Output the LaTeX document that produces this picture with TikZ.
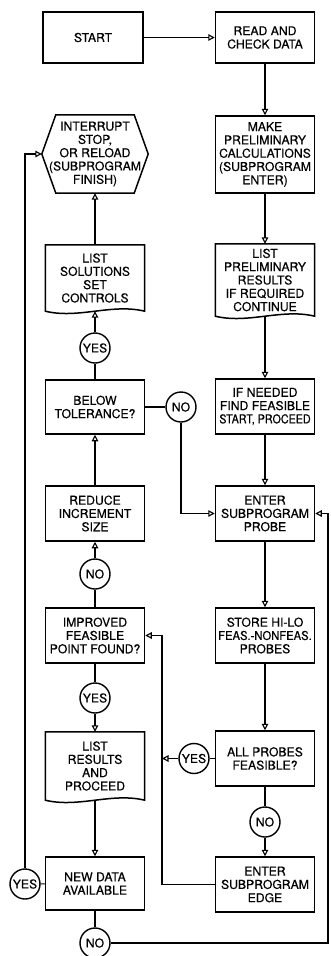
\documentclass[tikz,border=0pt]{standalone}
\usepackage{fontspec}
\setmainfont{TeX Gyre Heros}[FakeBold=0.45]
\usepackage{graphicx}
\usetikzlibrary{arrows.meta,calc}
\newcommand\docoutline[1]{%
  \draw[boxline] (#1.south west) -- (#1.north west) -- (#1.north east) -- (#1.south east)
    .. controls ($(#1.south east)+(-33,-8)$) and ($(#1.south west)+(33,8)$) .. (#1.south west) -- cycle;}
\begin{document}
\begin{tikzpicture}[x=1pt,y=-1pt,
  boxline/.style={line width=1.5pt},
  txt/.style={align=center,inner sep=0pt,font=\fontsize{12.2}{13.3}\selectfont},
  box/.style={txt,draw,boxline,minimum width=99pt,minimum height=55pt},
  doc/.style={txt,draw=none,minimum width=99pt},
  ring/.style={txt,draw,circle,line width=1.4pt,minimum size=30pt},
  link/.style={line width=1.15pt},
  arr/.style={link,-{Triangle[open,length=6.5pt,width=6.5pt]}}
]
\useasboundingbox (0,0) rectangle (330,956);

% right column
\node[box,minimum width=100pt,minimum height=51pt] (start) at (93,37.5) {START};
\node[box,minimum height=51pt] (read) at (265,37.5) {READ AND\\CHECK DATA};
\node[box,minimum height=77pt] (make) at (265,154.5) {MAKE\\PRELIMINARY\\CALCULATIONS\\(SUBPROGRAM\\ENTER)};
\node[doc,minimum height=72pt] (prelim) at (265,280) {LIST\\PRELIMINARY\\RESULTS\\IF REQUIRED\\CONTINUE};
\docoutline{prelim}
\node[box] (ifn) at (265,406.5) {IF NEEDED\\FIND FEASIBLE\\\scalebox{0.88}[1]{START, PROCEED}};
\node[box] (probe) at (265,513.5) {ENTER\\SUBPROGRAM\\PROBE};
\node[box] (store) at (265,635.5) {STORE HI-LO\\\scalebox{0.92}[1]{FEAS.-NONFEAS.}\\PROBES};
\node[box] (allp) at (265,758.5) {ALL PROBES\\FEASIBLE?};
\node[ring] (noR) at (265,822) {NO};
\node[box] (edge) at (265,884.5) {ENTER\\SUBPROGRAM\\EDGE};
\node[ring] (yesR) at (194,758.5) {YES};

% left column
\node[txt,minimum width=106pt,minimum height=78pt] (intr) at (95,154) {INTERRUPT\\STOP,\\OR RELOAD\\(SUBPROGRAM\\FINISH)};
\draw[boxline] (intr.west) -- ($(intr.north west)+(14,0)$) -- ($(intr.north east)+(-14,0)$) -- (intr.east)
  -- ($(intr.south east)+(-14,0)$) -- ($(intr.south west)+(14,0)$) -- cycle;
\node[doc,minimum height=66pt] (listsol) at (95,278) {LIST\\SOLUTIONS\\SET\\CONTROLS};
\docoutline{listsol}
\node[ring] (yesL1) at (95,348) {YES};
\node[box,minimum height=54pt] (below) at (95,407) {BELOW\\TOLERANCE?};
\node[ring] (noM) at (181,407) {NO};
\node[box] (reduce) at (95,513.5) {REDUCE\\INCREMENT\\SIZE};
\node[ring] (noL) at (95,574) {NO};
\node[box] (improved) at (95,635.5) {IMPROVED\\FEASIBLE\\POINT FOUND?};
\node[ring] (yesL2) at (95,698) {YES};
\node[doc,minimum height=68pt] (results) at (95,766) {LIST\\RESULTS\\AND\\PROCEED};
\docoutline{results}
\node[box,minimum height=53pt] (newdata) at (95,883.5) {NEW DATA\\AVAILABLE};
\node[ring] (yesF) at (25,884) {YES};
\node[ring] (noB) at (95,943) {NO};

\coordinate (lrail) at (162,0);
\coordinate (rrail) at (328,0);

% connectors
\draw[arr] (start) -- (read);
\draw[arr] (read) -- (make);
\draw[arr] (make) -- (prelim);
\draw[arr] (prelim) -- (ifn);
\draw[arr] (ifn) -- (probe);
\draw[arr] (probe) -- (store);
\draw[arr] (store) -- (allp);
\draw[link] (allp) -- (noR);
\draw[arr] (noR) -- (edge);
\draw[link] (allp) -- (yesR);
\draw[arr] (yesR) -- (yesR -| lrail);
\draw[arr] (edge.west) -- (edge.west -| lrail) |- (improved.east);

\draw[link] (improved) -- (yesL2);
\draw[arr] (yesL2) -- (results);
\draw[arr] (results) -- (newdata);
\draw[link] (newdata) -- (yesF);
\draw[arr] (yesF) |- (intr.west);
\draw[link] (newdata) -- (noB);
\draw[arr] (noB) -- (noB -| rrail) |- (probe.east);
\draw[link] (improved) -- (noL);
\draw[arr] (noL) -- (reduce);
\draw[arr] (reduce) -- (below);
\draw[link] (below) -- (noM);
\draw[arr] (noM) |- (probe.west);
\draw[link] (below) -- (yesL1);
\draw[arr] (yesL1) -- (listsol);
\draw[arr] (listsol) -- (intr);
\end{tikzpicture}
\end{document}
